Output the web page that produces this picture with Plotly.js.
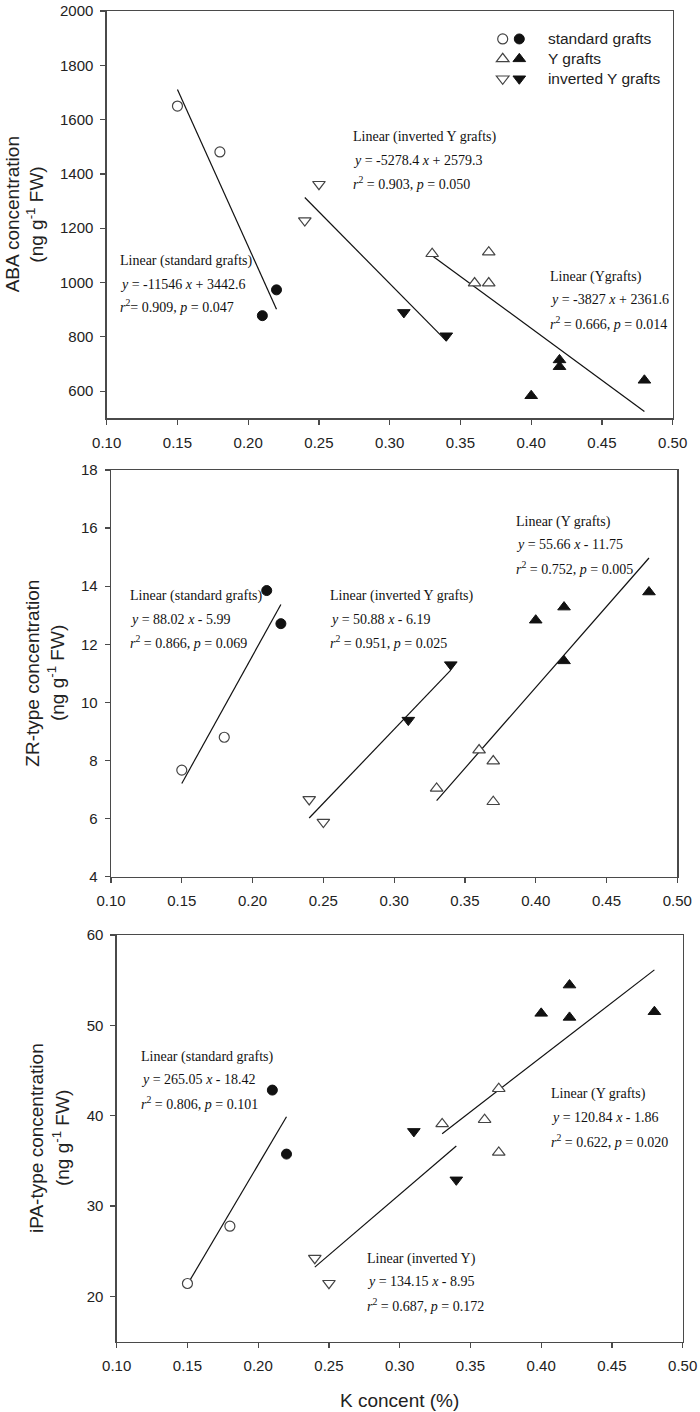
<!DOCTYPE html>
<html><head><meta charset="utf-8">
<script src="https://cdn.plot.ly/plotly-3.0.1.min.js"></script>
<style>html,body{margin:0;padding:0;background:#fff}#chart{width:700px;height:1412px}</style>
</head><body><div id="chart"></div>
<script>
// ---------- DATA ----------
const K_std_open    = [0.15, 0.18];
const K_std_filled  = [0.21, 0.22];
const K_Y_open      = [0.33, 0.36, 0.37, 0.37];
const K_Y_filled    = [0.40, 0.42, 0.42, 0.48];
const K_inv_open    = [0.24, 0.25];
const K_inv_filled  = [0.31, 0.34];

const ABA_std_open   = [1650, 1481];
const ABA_std_filled = [878, 973];
const ABA_Y_open     = [1106, 998, 1112, 998];
const ABA_Y_filled   = [583, 715, 690, 640];
const ABA_inv_open   = [1228, 1362];
const ABA_inv_filled = [890, 804];

const ZR_std_open    = [7.67, 8.80];
const ZR_std_filled  = [13.85, 12.71];
const ZR_Y_open      = [7.04, 8.36, 7.98, 6.58];
const ZR_Y_filled    = [12.83, 13.28, 11.43, 13.80];
const ZR_inv_open    = [6.66, 5.88];
const ZR_inv_filled  = [9.39, 11.30];

const iPA_std_open   = [21.44, 27.78];
const iPA_std_filled = [42.84, 35.76];
const iPA_Y_open     = [39.10, 39.56, 42.99, 35.95];
const iPA_Y_filled   = [51.33, 54.46, 50.88, 51.51];
const iPA_inv_open   = [24.24, 21.47];
const iPA_inv_filled = [38.27, 32.91];

// regression line end points
const fitK_std = [0.15, 0.22];
const fitK_Y   = [0.33, 0.48];
const fitK_inv = [0.24, 0.34];
const ABA_fit_std = [1711, 902];
const ABA_fit_Y   = [1099, 525];
const ABA_fit_inv = [1313, 785];
const ZR_fit_std  = [7.21, 13.37];
const ZR_fit_Y    = [6.62, 14.97];
const ZR_fit_inv  = [6.02, 11.11];
const iPA_fit_std = [21.34, 39.89];
const iPA_fit_Y   = [38.02, 56.14];
const iPA_fit_inv = [23.25, 36.66];

// axes ticks
const xTicks   = [0.10, 0.15, 0.20, 0.25, 0.30, 0.35, 0.40, 0.45, 0.50];
const abaTicks = [600, 800, 1000, 1200, 1400, 1600, 1800, 2000];
const zrTicks  = [4, 6, 8, 10, 12, 14, 16, 18];
const ipaTicks = [20, 30, 40, 50, 60];

const groupNames = ['standard grafts', 'Y grafts', 'inverted Y grafts'];

// regression text
const ABA_text = [
  ['Linear (standard grafts)', '<i>y</i> = -11546 <i>x</i> + 3442.6', '<i>r</i><sup>2</sup>= 0.909, <i>p</i> = 0.047'],
  ['Linear (inverted Y grafts)', '<i>y</i> = -5278.4 <i>x</i> + 2579.3', '<i>r</i><sup>2</sup> = 0.903, <i>p</i> = 0.050'],
  ['Linear (Ygrafts)', '<i>y</i> = -3827 <i>x</i> + 2361.6', '<i>r</i><sup>2</sup> = 0.666, <i>p</i> = 0.014']
];
const ZR_text = [
  ['Linear (standard grafts)', '<i>y</i> = 88.02 <i>x</i> - 5.99', '<i>r</i><sup>2</sup> = 0.866, <i>p</i> = 0.069'],
  ['Linear (inverted Y grafts)', '<i>y</i> = 50.88 <i>x</i> - 6.19', '<i>r</i><sup>2</sup> = 0.951, <i>p</i> = 0.025'],
  ['Linear (Y grafts)', '<i>y</i> = 55.66 <i>x</i> - 11.75', '<i>r</i><sup>2</sup> = 0.752, <i>p</i> = 0.005']
];
const iPA_text = [
  ['Linear (standard grafts)', '<i>y</i> = 265.05 <i>x</i> - 18.42', '<i>r</i><sup>2</sup> = 0.806, <i>p</i> = 0.101'],
  ['Linear (Y grafts)', '<i>y</i> = 120.84 <i>x</i> - 1.86', '<i>r</i><sup>2</sup> = 0.622, <i>p</i> = 0.020'],
  ['Linear (inverted Y)', '<i>y</i> = 134.15 <i>x</i> - 8.95', '<i>r</i><sup>2</sup> = 0.687, <i>p</i> = 0.172']
];

// ---------- LAYOUT / STYLE ----------
const W = 700, H = 1412;
const px = v => v / W;            // px -> paper x
const py = v => 1 - v / H;        // px -> paper y

// text anchor positions (data coords): [x, y1, y2, y3]
const ABA_pos = [[0.1082, 1079, 993, 913], [0.2726, 1537, 1451, 1366], [0.4117, 1022, 936, 850]];
const ZR_pos  = [[0.1117, 13.67, 12.87, 12.07], [0.2531, 13.67, 12.87, 12.07], [0.3847, 16.22, 15.42, 14.62]];
const iPA_pos = [[0.1158, 46.55, 43.97, 41.39], [0.4056, 42.38, 39.80, 37.26], [0.2755, 24.17, 21.66, 19.08]];

const panels = [
  {xa:'x',  ya:'y',  xd:[106.7, 672.7], yd:[11, 418.3], yr:[500, 2000], yt:abaTicks,
   title:'ABA concentration', tx:[12.7, 35],
   data:[[ABA_std_open, ABA_std_filled, ABA_fit_std],[ABA_Y_open, ABA_Y_filled, ABA_fit_Y],[ABA_inv_open, ABA_inv_filled, ABA_fit_inv]],
   text:ABA_text, pos:ABA_pos},
  {xa:'x2', ya:'y2', xd:[111, 677.3], yd:[470, 876.7], yr:[4, 18], yt:zrTicks,
   title:'ZR-type concentration', tx:[32.3, 56.7],
   data:[[ZR_std_open, ZR_std_filled, ZR_fit_std],[ZR_Y_open, ZR_Y_filled, ZR_fit_Y],[ZR_inv_open, ZR_inv_filled, ZR_fit_inv]],
   text:ZR_text, pos:ZR_pos},
  {xa:'x3', ya:'y3', xd:[116.7, 682.7], yd:[935, 1341.7], yr:[15, 60], yt:ipaTicks,
   title:'iPA-type concentration', tx:[36.7, 61.7],
   data:[[iPA_std_open, iPA_std_filled, iPA_fit_std],[iPA_Y_open, iPA_Y_filled, iPA_fit_Y],[iPA_inv_open, iPA_inv_filled, iPA_fit_inv]],
   text:iPA_text, pos:iPA_pos}
];

const Kopen   = [K_std_open, K_Y_open, K_inv_open];
const Kfilled = [K_std_filled, K_Y_filled, K_inv_filled];
const Kfit    = [fitK_std, fitK_Y, fitK_inv];
const symbols = ['circle', 'triangle-up', 'triangle-down'];
const sizes   = [10, 11, 11];

const SANS = 'Liberation Sans, Arial, sans-serif';
const SERIF = 'Liberation Serif, Times New Roman, serif';
const AXC = '#4a4a4a';
const TXT = '#222';

const traces = [];
const annotations = [];
const layout = {
  width: W, height: H,
  margin: {l:0, r:0, t:0, b:0},
  paper_bgcolor: '#fff', plot_bgcolor: '#fff',
  showlegend: true,
  legend: {x: px(499.3), y: py(24), xanchor:'left', yanchor:'top', bgcolor:'rgba(0,0,0,0)',
           font:{family:SANS, size:13, color:TXT}, itemwidth:30, tracegroupgap:0, traceorder:'normal'},
  legend2: {x: px(482.7), y: py(24), xanchor:'left', yanchor:'top', bgcolor:'rgba(0,0,0,0)',
           font:{family:SANS, size:13, color:TXT}, itemwidth:30, tracegroupgap:0, traceorder:'normal'},
  annotations: annotations
};

panels.forEach((p, pi) => {
  const axBase = {
    showline:true, linecolor:AXC, linewidth:1.3, mirror:true,
    ticks:'outside', ticklen:5, tickwidth:1.3, tickcolor:AXC,
    showgrid:false, zeroline:false, fixedrange:true,
    tickfont:{family:SANS, size:15, color:TXT}
  };
  const xk = 'xaxis' + (pi ? pi + 1 : '');
  const yk = 'yaxis' + (pi ? pi + 1 : '');
  layout[xk] = Object.assign({}, axBase, {
    domain:[px(p.xd[0]), px(p.xd[1])], range:[0.10, 0.50], ticklabelstandoff:5,
    tickvals:xTicks, ticktext:xTicks.map(v => v.toFixed(2)), anchor:p.ya
  });
  layout[yk] = Object.assign({}, axBase, {
    domain:[py(p.yd[1]), py(p.yd[0])], range:p.yr, ticklabelstandoff:4,
    tickvals:p.yt, ticktext:p.yt.map(String), anchor:p.xa
  });

  for (let g = 0; g < 3; g++) {
    const yfit = p.data[g][2];
    traces.push({
      type:'scatter', mode:'lines', x:Kfit[g], y:yfit, xaxis:p.xa, yaxis:p.ya,
      line:{color:'#111', width:1.2}, showlegend:false, hoverinfo:'skip'
    });
  }
  for (let g = 0; g < 3; g++) {
    const [yo, yf] = p.data[g];
    traces.push({
      type:'scatter', mode:'markers', x:Kopen[g], y:yo, xaxis:p.xa, yaxis:p.ya,
      name:'\u00a0', legend:'legend2', showlegend: pi === 0,
      marker:{symbol:symbols[g], size:sizes[g], color:'#fff', line:{color:'#444', width:1.2}}
    });
    traces.push({
      type:'scatter', mode:'markers', x:Kfilled[g], y:yf, xaxis:p.xa, yaxis:p.ya,
      name:'<span style="font-size:15.5px">\u00a0\u00a0' + groupNames[g] + '</span>', legend:'legend', showlegend: pi === 0,
      marker:{symbol:symbols[g], size:sizes[g], color:'#111', line:{color:'#111', width:1}}
    });
  }

  // regression annotations
  p.text.forEach((lines, g) => {
    lines.forEach((t, li) => {
      annotations.push({
        xref:p.xa, yref:p.ya, x:p.pos[g][0], y:p.pos[g][li + 1], text:t,
        xanchor:'left', yanchor:'middle', showarrow:false,
        font:{family:SERIF, size:14, color:'#111'}
      });
    });
  });

  // y axis title (two lines)
  const yc = (p.yd[0] + p.yd[1]) / 2;
  annotations.push({xref:'paper', yref:'paper', x:px(p.tx[0]), y:py(yc), text:p.title,
    textangle:-90, xanchor:'center', yanchor:'middle', showarrow:false,
    font:{family:SANS, size:19, color:TXT}});
  annotations.push({xref:'paper', yref:'paper', x:px(p.tx[1]), y:py(yc), text:'(ng g<sup>-1</sup> FW)',
    textangle:-90, xanchor:'center', yanchor:'middle', showarrow:false,
    font:{family:SANS, size:19, color:TXT}});
});

annotations.push({xref:'paper', yref:'paper', x:px(399.7), y:py(1400), text:'K concent (%)',
  xanchor:'center', yanchor:'middle', showarrow:false, font:{family:SANS, size:19, color:TXT}});

Plotly.newPlot('chart', traces, layout, {staticPlot:true, displayModeBar:false});
</script></body></html>
